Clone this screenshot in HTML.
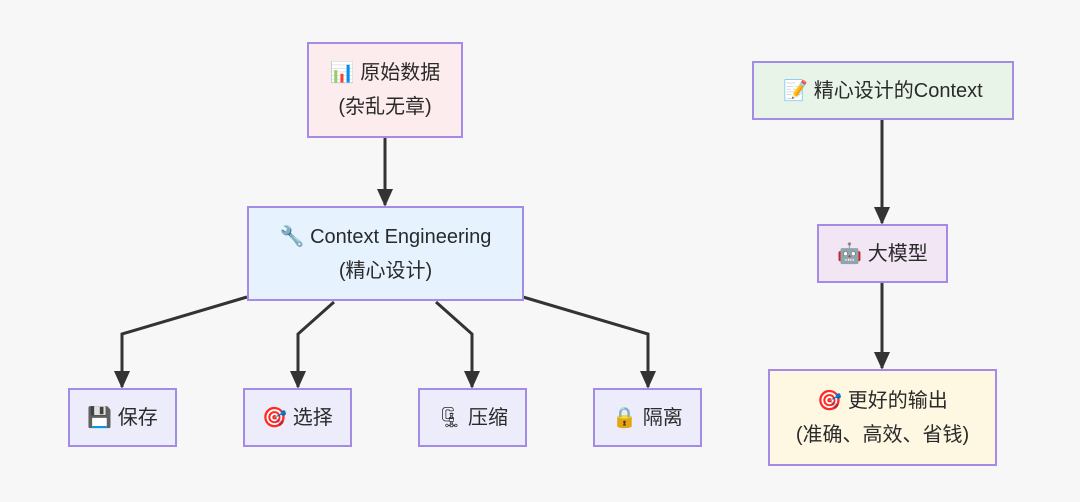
<!DOCTYPE html>
<html><head><meta charset="utf-8"><style>
body{margin:0;width:1080px;height:502px;background:#f7f7f7;position:relative;overflow:hidden;font-family:"Liberation Sans","Noto Sans CJK SC",sans-serif;color:#2a2a2a}
.b{position:absolute;border:2px solid #a48be6;box-sizing:border-box;display:flex;flex-direction:column;align-items:center;justify-content:center;font-size:20px;line-height:34px;text-align:center}
.s{background:#ececfb}
svg{position:absolute;left:0;top:0}
</style></head><body>
<svg width="1080" height="502">
<defs>
<marker id="h" viewBox="0 0 10 10" markerWidth="18" markerHeight="18" refX="9" refY="5" orient="auto" markerUnits="userSpaceOnUse"><path d="M0,0.5 L10,5 L0,9.5 Z" fill="#333"/></marker></defs>
<g stroke="#333" stroke-width="3" fill="none" marker-end="url(#h)">
<path d="M385,137 L385,205"/>
<path d="M247,297 L122,334 L122,387"/>
<path d="M334,302 L298,334 L298,387"/>
<path d="M436,302 L472,334 L472,387"/>
<path d="M523,297 L648,334 L648,387"/>
<path d="M882,119 L882,223"/>
<path d="M882,282 L882,368"/>
</g></svg>
<div class="b" style="left:307px;top:42px;width:156px;height:96px;background:#fdeced"><div>📊 原始数据</div><div>(杂乱无章)</div></div>
<div class="b" style="left:247px;top:206px;width:277px;height:95px;background:#e6f2fd"><div>🔧 Context Engineering</div><div>(精心设计)</div></div>
<div class="b s" style="left:68px;top:388px;width:109px;height:59px">💾 保存</div>
<div class="b s" style="left:243px;top:388px;width:109px;height:59px">🎯 选择</div>
<div class="b s" style="left:418px;top:388px;width:109px;height:59px">🗜 压缩</div>
<div class="b s" style="left:593px;top:388px;width:109px;height:59px">🔒 隔离</div>
<div class="b" style="left:752px;top:61px;width:262px;height:59px;background:#e8f4e8">📝 精心设计的Context</div>
<div class="b" style="left:817px;top:224px;width:131px;height:59px;background:#f2e5f4">🤖 大模型</div>
<div class="b" style="left:768px;top:369px;width:229px;height:97px;background:#fef7e2"><div>🎯 更好的输出</div><div>(准确、高效、省钱)</div></div>
</body></html>
